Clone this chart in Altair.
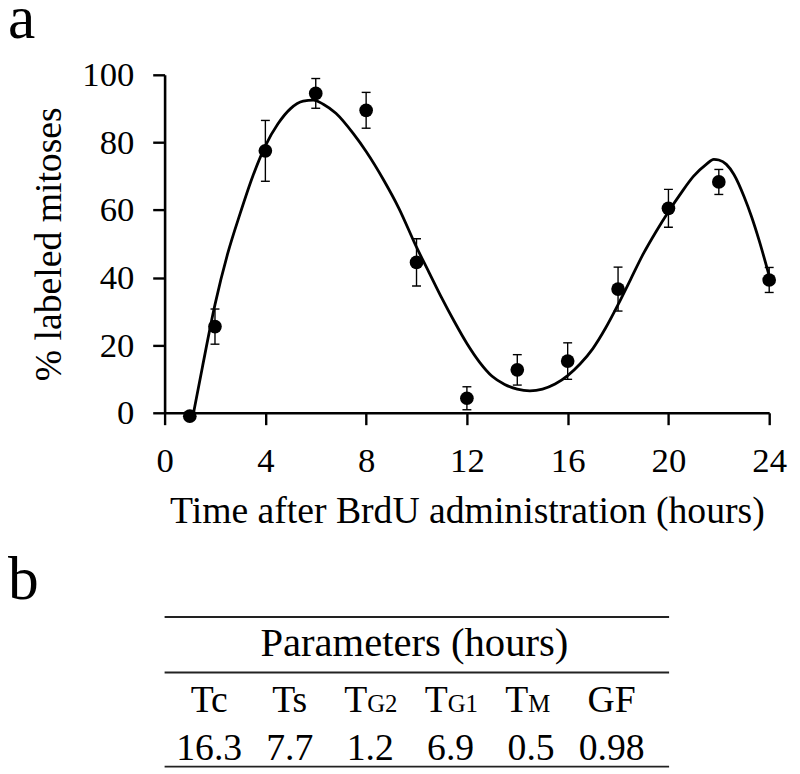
import altair as alt
import pandas as pd

# ---- panel a data ----
time_h = [1, 2, 4, 6, 8, 10, 12, 14, 16, 18, 20, 22, 24]
labeled = [-1, 25.5, 77.5, 94.5, 89.5, 44.5, 4.3, 12.7, 15.3, 36.6, 60.5, 68.3, 39.3]
err = [0, 5.2, 9, 4.4, 5.3, 7, 3.4, 4.5, 5.4, 6.5, 5.6, 3.7, 3.7]

fit_t = [1.15, 1.5, 2, 2.5, 3, 3.5, 4, 4.5, 5, 5.5, 5.9, 6.3, 6.8, 7.5, 8, 8.7, 9.3,
         10, 10.5, 11, 11.5, 12, 12.5, 13, 13.5, 14, 14.5, 15, 15.5, 16, 16.5,
         17, 17.5, 18, 18.5, 19, 19.5, 20, 20.5, 21, 21.5, 21.8, 22, 22.3, 22.6, 23,
         23.3, 23.6, 24]
fit_v = [0, 13.5, 32, 47, 59, 70, 79, 85.5, 90, 92.2, 92.5, 91.3, 88.6, 82.5, 77.3,
         68.8, 60.5, 49, 41.5, 34, 27, 20.5, 15, 10.8, 8.4, 7, 6.5, 7, 8.5, 11,
         14.5, 19, 25, 32, 39.5, 47, 53.5, 59.5, 65, 70, 73.5, 75, 74.8, 73.5, 70.5,
         64, 58, 51, 40.5]

# ---- panel b data ----
param_main = ["Tc", "Ts", "T", "T", "T", "GF"]
param_sub = ["", "", "G2", "G1", "M", ""]
param_values = ["16.3", "7.7", "1.2", "6.9", "0.5", "0.98"]
table_title = "Parameters (hours)"

FONT = "Liberation Serif"

pts = pd.DataFrame({"t": time_h, "v": labeled, "e": err})
pts["lo"] = pts["v"] - pts["e"]
pts["hi"] = pts["v"] + pts["e"]
fit = pd.DataFrame({"t": fit_t, "v": fit_v})

xs = alt.Scale(domain=[0, 24], nice=False, zero=False)
ys = alt.Scale(domain=[0, 100], nice=False)

axis_common = dict(
    grid=False, domainColor="black", domainWidth=2.6, tickColor="black",
    tickWidth=2.4, tickSize=12, labelFont=FONT, labelFontSize=35,
    labelColor="black", titleFont=FONT, titleFontSize=38,
    titleFontWeight="normal", titleColor="black", labelOverlap=False,
    labelFlush=False,
)
x_axis = alt.Axis(values=[0, 4, 8, 12, 16, 20, 24], title="Time after BrdU administration (hours)",
                  labelPadding=19, titlePadding=15, **axis_common)
y_axis = alt.Axis(values=[0, 20, 40, 60, 80, 100], title="% labeled mitoses",
                  labelPadding=19, titlePadding=14, **axis_common)

line = alt.Chart(fit).mark_line(color="black", strokeWidth=2.8, interpolate="monotone").encode(
    x=alt.X("t:Q", scale=xs, axis=x_axis),
    y=alt.Y("v:Q", scale=ys, axis=y_axis),
)
bars_src = alt.Chart(pts).transform_filter("datum.e > 0")
rules = bars_src.mark_rule(color="black", strokeWidth=1.4).encode(
    x="t:Q", y="lo:Q", y2="hi:Q"
)
cap_lo = bars_src.mark_tick(orient="horizontal", color="black", thickness=1.4, size=9, opacity=1).encode(
    x="t:Q", y="lo:Q"
)
cap_hi = bars_src.mark_tick(orient="horizontal", color="black", thickness=1.4, size=9, opacity=1).encode(
    x="t:Q", y="hi:Q"
)
dots = alt.Chart(pts).mark_circle(color="black", size=190, opacity=1).encode(
    x="t:Q", y="v:Q"
)

chart_a = alt.layer(line, rules, cap_lo, cap_hi, dots).properties(
    width=610, height=341,
    title=alt.TitleParams("a", anchor="start", frame="group", dx=-158, fontSize=62,
                          font=FONT, fontWeight="normal", color="black", offset=7),
)

# ---- table ----
tbl = pd.DataFrame({"i": list(range(len(param_main))), "main": param_main,
                    "sub": param_sub, "val": param_values})
txs = alt.Scale(domain=[-0.554, 5.714], nice=False, zero=False)
TW, TH = 509, 151

tbase = alt.Chart(tbl)
hlines = [
    tbase.transform_filter("datum.i == 0").mark_rule(color="#222", strokeWidth=2).encode(
        x=alt.value(0), x2=alt.value(TW), y=alt.value(yy))
    for yy in (0, 56, TH)
]
ttl = tbase.transform_filter("datum.i == 0").mark_text(
    font=FONT, fontSize=41, color="black", baseline="alphabetic", text=table_title
).encode(x=alt.value(252), y=alt.value(39))
head_plain = tbase.transform_filter("datum.sub == ''").mark_text(
    font=FONT, fontSize=38, color="black", baseline="alphabetic"
).encode(x=alt.X("i:Q", scale=txs, axis=None), y=alt.value(96), text="main:N")
head_T = tbase.transform_filter("datum.sub != ''").mark_text(
    font=FONT, fontSize=38, color="black", baseline="alphabetic", align="right", dx=-3
).encode(x=alt.X("i:Q", scale=txs, axis=None), y=alt.value(96), text="main:N")
head_sub = tbase.transform_filter("datum.sub != ''").mark_text(
    font=FONT, fontSize=25, color="black", baseline="alphabetic", align="left", dx=-3
).encode(x=alt.X("i:Q", scale=txs, axis=None), y=alt.value(96), text="sub:N")
vals = tbase.mark_text(
    font=FONT, fontSize=38, color="black", baseline="alphabetic"
).encode(x=alt.X("i:Q", scale=txs, axis=None), y=alt.value(144), text="val:N")

chart_b = alt.layer(*hlines, ttl, head_plain, head_T, head_sub, vals).properties(
    width=TW, height=TH,
    title=alt.TitleParams("b", anchor="start", frame="group", dx=-158, fontSize=62,
                          font=FONT, fontWeight="normal", color="black", offset=4),
)

chart = alt.vconcat(chart_a, chart_b, spacing=19).properties(
    padding={"left": 0, "top": -23, "right": 5, "bottom": 0}
).configure_view(stroke=None)

chart.save("out.html", embed_options={"renderer": "svg", "actions": False})
